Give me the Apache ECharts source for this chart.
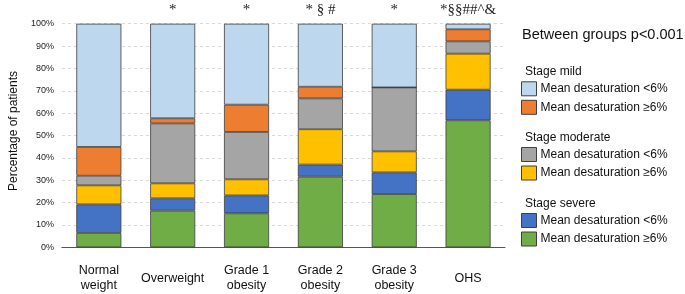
<!DOCTYPE html>
<html>
<head>
<meta charset="utf-8">
<script src="https://cdn.jsdelivr.net/npm/echarts@6/dist/echarts.min.js"></script>
<style>
  html, body { margin: 0; padding: 0; background: #fff; }
  #chart { width: 685px; height: 294px; }
</style>
</head>
<body>
<div id="chart"></div>
<script>
// categories and stacked percentages (bottom to top)
var groups = ['Normal\nweight', 'Overweight', 'Grade 1\nobesity', 'Grade 2\nobesity', 'Grade 3\nobesity', 'OHS'];
var severeHigh = [6.4, 16.4, 15.2, 31.6, 23.8, 56.8];
var severeLow = [12.8, 5.5, 8.0, 5.4, 9.7, 13.7];
var moderateHigh = [8.5, 6.7, 7.2, 15.8, 9.4, 16.1];
var moderateLow = [4.3, 26.8, 21.2, 13.8, 28.6, 5.5];
var mildHigh = [12.9, 2.3, 12.2, 5.2, 0, 5.4];
var mildLow = [55.1, 42.3, 36.2, 28.2, 28.5, 2.5];
var marks = ['', '*', '*', '* \u00a7 #', '*', '*\u00a7\u00a7##^&'];
var yTicks = [0, 10, 20, 30, 40, 50, 60, 70, 80, 90, 100];

var names = {
    mildLow: 'Mean desaturation <6%',
    mildHigh: 'Mean desaturation \u22656%',
    modLow: 'Mean desaturation <6%',
    modHigh: 'Mean desaturation \u22656%',
    sevLow: 'Mean desaturation <6%',
    sevHigh: 'Mean desaturation \u22656%'
};

var chart = echarts.init(document.getElementById('chart'));
var font = '"Liberation Sans", Arial, sans-serif';
var border = '#3f3f3f';

function bar(id, data, color, label) {
    var s = {
        name: id,
        type: 'bar',
        stack: 'all',
        barWidth: '61%',
        data: data,
        itemStyle: {color: color, borderColor: border, borderWidth: 0.8},
        emphasis: {disabled: true}
    };
    if (label) {
        s.label = {
            show: true,
            position: 'top',
            distance: 6,
            color: '#222',
            fontFamily: '"Liberation Serif", "Times New Roman", serif',
            fontSize: 15,
            formatter: function (p) { return marks[p.dataIndex]; }
        };
    }
    return s;
}

function legendBox(top, ids) {
    return {
        left: 521,
        top: top,
        padding: 0,
        orient: 'vertical',
        itemWidth: 15,
        itemHeight: 14,
        itemGap: 3.5,
        icon: 'rect',
        selectedMode: false,
        data: ids,
        itemStyle: {borderColor: border, borderWidth: 1},
        textStyle: {fontFamily: font, fontSize: 12, color: '#111', padding: [0, 0, 0, -1]},
        formatter: function (n) { return names[n]; }
    };
}

function heading(text, top, left, size) {
    return {
        text: text,
        left: left,
        top: top,
        padding: 0,
        textStyle: {fontFamily: font, fontSize: size, fontWeight: 'normal', color: '#111'}
    };
}

var option = {
    animation: false,
    title: [
        heading('Between groups p<0.001', 27.5, 522, 14.5),
        heading('Stage mild', 66, 525, 12),
        heading('Stage moderate', 131.5, 525, 12),
        heading('Stage severe', 197.5, 525, 12)
    ],
    legend: [
        legendBox(81.3, ['mildLow', 'mildHigh']),
        legendBox(147, ['modLow', 'modHigh']),
        legendBox(213, ['sevLow', 'sevHigh'])
    ],
    grid: {left: 48, right: 180, top: 23.7, bottom: 46.7},
    xAxis: {
        type: 'category',
        data: groups,
        axisTick: {show: false},
        axisLine: {lineStyle: {color: '#555', width: 1}},
        axisLabel: {
            fontFamily: font,
            fontSize: 12.5,
            color: '#111',
            lineHeight: 15,
            verticalAlign: 'middle',
            margin: 31,
            interval: 0
        }
    },
    yAxis: {
        type: 'value',
        min: yTicks[0],
        max: yTicks[yTicks.length - 1],
        interval: 10,
        name: 'Percentage of patients',
        nameLocation: 'middle',
        nameGap: 41,
        nameTextStyle: {fontFamily: font, fontSize: 12, color: '#111', padding: [0, 0, 0, 9]},
        axisLine: {show: false},
        axisTick: {show: false},
        axisLabel: {
            fontFamily: font,
            fontSize: 9,
            color: '#222',
            margin: 8,
            formatter: function (v) { return v + '%'; }
        },
        splitLine: {lineStyle: {color: '#d9d9d9', type: [3, 3], width: 1}}
    },
    series: [
        bar('sevHigh', severeHigh, '#70ad47'),
        bar('sevLow', severeLow, '#4472c4'),
        bar('modHigh', moderateHigh, '#ffc000'),
        bar('modLow', moderateLow, '#a5a5a5'),
        bar('mildHigh', mildHigh, '#ed7d31'),
        bar('mildLow', mildLow, '#bdd7ee', true)
    ]
};

chart.setOption(option);
</script>
</body>
</html>
